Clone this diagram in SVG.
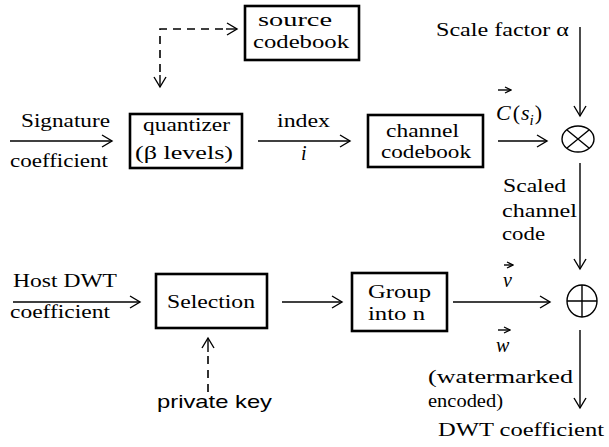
<svg xmlns="http://www.w3.org/2000/svg" width="609" height="447" viewBox="0 0 609 447">
<defs>
<marker id="ah" markerUnits="userSpaceOnUse" markerWidth="14" markerHeight="14" refX="11" refY="7" orient="auto">
<path d="M1,1 L11,7 L1,13" fill="none" stroke="#000" stroke-width="1.4"/>
</marker>
<marker id="sm" markerUnits="userSpaceOnUse" markerWidth="8" markerHeight="8" refX="7" refY="4" orient="auto">
<path d="M1,1 L7,4 L1,7" fill="none" stroke="#000" stroke-width="1.3"/>
</marker>
</defs>
<style>
.box{fill:#fff;stroke:#000;stroke-width:2.6}
.ln{fill:none;stroke:#000;stroke-width:1.4}
.dash{fill:none;stroke:#000;stroke-width:1.6;stroke-dasharray:8,6}
.op{fill:none;stroke:#000;stroke-width:1.4}
</style>
<rect width="609" height="447" fill="#fff"/>

<g id="connectors">
<path class="dash" d="M160,72 V29 H228"/>
<path class="ln" d="M160,75 V87" marker-end="url(#ah)"/>
<path class="ln" d="M226,29 H237" marker-end="url(#ah)"/>
<path class="ln" d="M10,141 H112" marker-end="url(#ah)"/>
<path class="ln" d="M258,141 H350" marker-end="url(#ah)"/>
<path class="ln" d="M498,141 H547" marker-end="url(#ah)"/>
<path class="ln" d="M580,27 V116" marker-end="url(#ah)"/>
<path class="ln" d="M580,163 V269" marker-end="url(#ah)"/>
<path class="ln" d="M13,302 H140" marker-end="url(#ah)"/>
<path class="ln" d="M282,302 H342" marker-end="url(#ah)"/>
<path class="ln" d="M453,302 H550" marker-end="url(#ah)"/>
<path class="ln" d="M580,330 V408" marker-end="url(#ah)"/>
<path class="dash" d="M208,392 V352" stroke-dasharray="6,7"/>
<path class="ln" d="M208,352 V338" marker-end="url(#ah)"/>
<path class="ln" d="M498,90 H511" marker-end="url(#sm)"/>
<path class="ln" d="M504,265 H513" marker-end="url(#sm)"/>
<path class="ln" d="M498,330 H510" marker-end="url(#sm)"/>
</g>

<g font-family="Liberation Serif, Times New Roman, serif" font-size="19" fill="#000">
<g id="source-codebook">
<rect class="box" x="245" y="6" width="114" height="54"/>
<text x="258" y="26" textLength="74" lengthAdjust="spacingAndGlyphs">source</text>
<text x="253" y="48" textLength="96" lengthAdjust="spacingAndGlyphs">codebook</text>
</g>

<g id="quantizer">
<rect class="box" x="130" y="114" width="112" height="54"/>
<text x="143" y="131" textLength="87" lengthAdjust="spacingAndGlyphs">quantizer</text>
<text x="135" y="159" textLength="98" lengthAdjust="spacingAndGlyphs">(β levels)</text>
</g>

<g id="channel-codebook">
<rect class="box" x="368" y="115" width="115" height="52"/>
<text x="386" y="137" textLength="73" lengthAdjust="spacingAndGlyphs">channel</text>
<text x="381" y="158" textLength="90" lengthAdjust="spacingAndGlyphs">codebook</text>
</g>

<g id="multiplier">
<ellipse class="op" cx="578" cy="139" rx="16" ry="13"/>
<path class="op" d="M567,130 L589,148 M589,130 L567,148"/>
</g>

<g id="adder">
<ellipse class="op" cx="582" cy="301" rx="15" ry="16"/>
<path class="op" d="M582,285 V317 M567,301 H597"/>
</g>

<g id="selection">
<rect class="box" x="156" y="274" width="111" height="54"/>
<text x="167" y="308" textLength="88" lengthAdjust="spacingAndGlyphs">Selection</text>
</g>

<g id="group-into-n">
<rect class="box" x="352" y="273" width="95" height="58"/>
<text x="368" y="298" textLength="63" lengthAdjust="spacingAndGlyphs">Group</text>
<text x="368" y="320" textLength="57" lengthAdjust="spacingAndGlyphs">into n</text>
</g>

<g id="labels">
<text x="436" y="36" textLength="133" lengthAdjust="spacingAndGlyphs">Scale factor α</text>
<text x="21" y="127" textLength="89" lengthAdjust="spacingAndGlyphs">Signature</text>
<text x="10" y="167" textLength="98" lengthAdjust="spacingAndGlyphs">coefficient</text>
<text x="277" y="127" textLength="53" lengthAdjust="spacingAndGlyphs">index</text>
<text font-style="italic" x="301" y="160" font-size="20">i</text>
<text x="496" y="120" font-size="22"><tspan font-style="italic">C</tspan><tspan dx="2">(</tspan><tspan font-style="italic" dx="1">s</tspan><tspan font-style="italic" font-size="15" dy="5">i</tspan><tspan dy="-5" dx="1">)</tspan></text>
<text x="503" y="192" textLength="63" lengthAdjust="spacingAndGlyphs">Scaled</text>
<text x="502" y="217" textLength="75" lengthAdjust="spacingAndGlyphs">channel</text>
<text x="502" y="240" textLength="43" lengthAdjust="spacingAndGlyphs">code</text>
<text x="13" y="287" textLength="104" lengthAdjust="spacingAndGlyphs">Host DWT</text>
<text x="10" y="318" textLength="100" lengthAdjust="spacingAndGlyphs">coefficient</text>
<text font-style="italic" x="503" y="287" font-size="20">v</text>
<text font-style="italic" x="496" y="352" font-size="20">w</text>
<text x="428" y="383" textLength="145" lengthAdjust="spacingAndGlyphs">(watermarked</text>
<text x="428" y="407" textLength="75" lengthAdjust="spacingAndGlyphs">encoded)</text>
<text x="438" y="436" textLength="166" lengthAdjust="spacingAndGlyphs">DWT coefficient</text>
<text font-family="Liberation Sans, Arial, sans-serif" x="157" y="408" textLength="115" lengthAdjust="spacingAndGlyphs">private key</text>
</g>
</g>
</svg>
